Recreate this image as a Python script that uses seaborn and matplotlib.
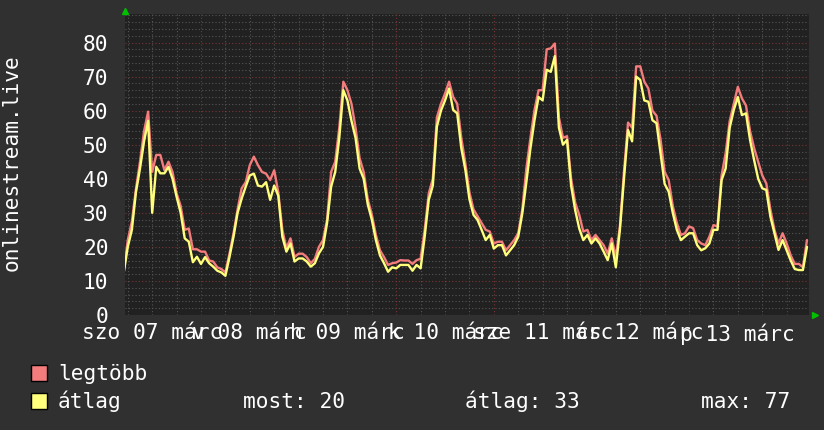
import matplotlib
matplotlib.use("Agg")
import matplotlib.pyplot as plt
from matplotlib.patches import Rectangle
import seaborn as sns
import pandas as pd
import numpy as np

# ---- data (hours relative to 08 márc 00:00) ----
hours = list(range(-19, 150))

atlag = [
    12.4, 20, 25, 36, 43, 51, 57, 30, 43.5, 41.6, 41.6, 43.5,
    40, 34.7, 30, 22.5, 21.5, 15.5, 17.1, 15, 17, 15.2, 14.2, 13,
    12.5, 11.5, 17, 23, 30, 34.2, 37.7, 41, 41.5, 38, 37.7, 39,
    33.8, 38, 35, 23, 18.6, 21, 15.7, 16.6, 16.6, 15.7, 14.2, 15.2,
    18.1, 20, 27, 37.7, 42, 52, 66, 63, 57, 52, 43, 40,
    32.5, 28, 22, 17.5, 15.2, 12.7, 14, 13.7, 14.7, 14.7, 14.7, 13,
    14.7, 13.7, 23, 33.8, 38, 55.3, 60, 63, 66.5, 60.2, 59.2, 49,
    42.6, 34, 29.4, 27.9, 25, 22, 23.5, 19.5, 20.5, 20.5, 17.5, 19,
    20.5, 23, 29.8, 39, 48.9, 57.2, 64, 63, 72, 71.4, 76, 55,
    50, 51.4, 38, 30.8, 25.4, 22, 23.5, 21, 22.5, 21, 18.6, 16.1,
    21, 14, 25, 40, 54.3, 51, 70, 69, 63, 62.6, 57.2, 56.3,
    47.5, 38.5, 36.2, 30, 25, 22, 23, 24, 24, 20.5, 19, 19.6,
    21, 25, 25, 39.6, 43, 55, 60.2, 64, 58.7, 59.2, 51.4, 45.5,
    40, 37.2, 36.7, 28.9, 24, 19.1, 22, 19, 16, 13.5, 13.2, 13.2,
    20,
]

legtobb = [
    13, 22, 27.4, 37, 45, 54, 59.7, 42, 47, 47, 42.5, 45,
    42, 35.7, 32, 25, 25.4, 19.3, 19.3, 18.6, 18.6, 16, 15.7, 14,
    13.5, 12.5, 18, 24, 31, 37.2, 39, 44, 46.5, 44, 42, 41.5,
    39.6, 42.5, 36, 25, 19.6, 22.5, 17, 18, 18, 17, 15.2, 16.5,
    20, 22, 28, 42, 45, 55, 68.5, 66, 62, 55, 46, 42,
    34, 29.5, 23.5, 19, 17, 14.7, 15.2, 15.4, 16.1, 16, 16, 15,
    16.1, 16.5, 25, 35.7, 40, 58, 62, 65, 68.5, 64, 62, 52,
    44.5, 36, 31, 29, 27, 25, 24.5, 21, 21.5, 21.5, 19, 20.5,
    22, 24, 31, 43, 52, 60.2, 66, 66, 78, 78.3, 79.7, 58,
    52, 52.5, 40, 33, 29.4, 24.5, 25, 22, 23.5, 22, 20.5, 18,
    22.5, 17, 26, 42, 56.5, 55, 73, 73, 68.5, 66.5, 60, 58.5,
    51.5, 42, 39.6, 32, 27, 23.5, 24, 26, 25.5, 22, 21, 20.5,
    23, 26.4, 26, 41, 47.5, 57, 62, 67, 63.6, 61.5, 54, 49,
    45, 41, 38.6, 31, 25, 21, 24, 21, 17.5, 15, 15, 14,
    22,
]

day_labels = ["szo 07 márc", "v 08 márc", "h 09 márc", "k 10 márc",
              "sze 11 márc", "cs 12 márc", "p 13 márc"]
day_centers = [-12, 12, 36, 60, 84, 108, 132]
y_ticks = [0, 10, 20, 30, 40, 50, 60, 70, 80]
series_names = ["legtöbb", "átlag"]
stat_texts = ["most: 20", "átlag: 33", "max: 77"]
y_title = "onlinestream.live"

# ---- style ----
BG = "#303030"
PLOT_BG = "#212121"
RED = "#f47c7c"
YEL = "#ffff7c"
MINOR = "#555555"
MAJOR = "#7a3434"
FS = 15.2

sns.set_theme(style="dark", rc={
    "axes.facecolor": PLOT_BG, "figure.facecolor": BG,
    "text.color": "white", "xtick.color": "white", "ytick.color": "white",
    "axes.edgecolor": PLOT_BG,
})
plt.rcParams["font.family"] = ["DejaVu Sans Mono", "DejaVu Sans"]

W, H = 824, 430
fig = plt.figure(figsize=(W / 100, H / 100), dpi=100, facecolor=BG)
L, R, T, B = 125, 809, 14, 315
ax = fig.add_axes([L / W, (H - B) / H, (R - L) / W, (B - T) / H])
ax.set_facecolor(PLOT_BG)

XMIN, XMAX = (L - 201) / 4.067, (R - 201) / 4.067
YMAX = (B - T) / 3.406

# grid
dot = (0, (1, 2))
for yv in np.arange(2, YMAX, 2):
    is_major = abs(yv % 10) < 1e-9
    ax.axhline(yv, color=MAJOR if is_major else MINOR, lw=0.8, ls=dot, zorder=1)
for xv in np.arange(-18, XMAX, 6):
    is_major = abs(xv % 24) < 1e-9
    ax.axvline(xv, color=MAJOR if is_major else MINOR, lw=0.8, ls=dot, zorder=1)

n = len(hours)
df = pd.DataFrame({
    "ora": hours * 2,
    "ertek": legtobb + atlag,
    "sor": [series_names[0]] * n + [series_names[1]] * n,
})
sns.lineplot(data=df, x="ora", y="ertek", hue="sor", hue_order=series_names,
             palette={series_names[0]: RED, series_names[1]: YEL},
             linewidth=1.7, legend=False, ax=ax,
             estimator=None, zorder=3)

ax.set_xlim(XMIN, XMAX)
ax.set_ylim(0, YMAX)
ax.set_xticks(day_centers)
ax.set_xticklabels(day_labels)
ax.set_yticks(y_ticks)
ax.set_yticklabels([str(v) for v in y_ticks])
ax.tick_params(axis="x", length=0, pad=5.8, labelsize=FS, colors="white")
ax.tick_params(axis="y", length=0, pad=11.9, labelsize=FS, colors="white")
ax.set_xlabel("")
ax.set_ylabel("")
for s in ax.spines.values():
    s.set_visible(False)
ax.grid(False)

# axis arrows
fig.add_artist(plt.Line2D([L / W], [(H - 11) / H], marker="^", color="#00c000",
                          markersize=5, transform=fig.transFigure, lw=0))
fig.add_artist(plt.Line2D([815 / W], [(H - B) / H], marker=">", color="#00c000",
                          markersize=5, transform=fig.transFigure, lw=0))

# y title
fig.text(12 / W, (H - 163) / H, y_title, rotation=90, ha="center", va="center",
         fontsize=FS, color="white")

# legend
for i, (name, col) in enumerate(zip(series_names, [RED, YEL])):
    top = 365 + i * 28
    fig.add_artist(Rectangle((31 / W, (H - top - 16) / H), 16 / W, 16 / H,
                             transform=fig.transFigure, facecolor=col,
                             edgecolor="black", lw=1))
    fig.text(58 / W, (H - (380 + i * 28)) / H, name, ha="left", va="baseline",
             fontsize=FS, color="white")
for txt, xp in zip(stat_texts, [243, 465, 701]):
    fig.text(xp / W, (H - 408) / H, txt, ha="left", va="baseline",
             fontsize=FS, color="white")

fig.savefig("out.png", dpi=100, facecolor=BG)
